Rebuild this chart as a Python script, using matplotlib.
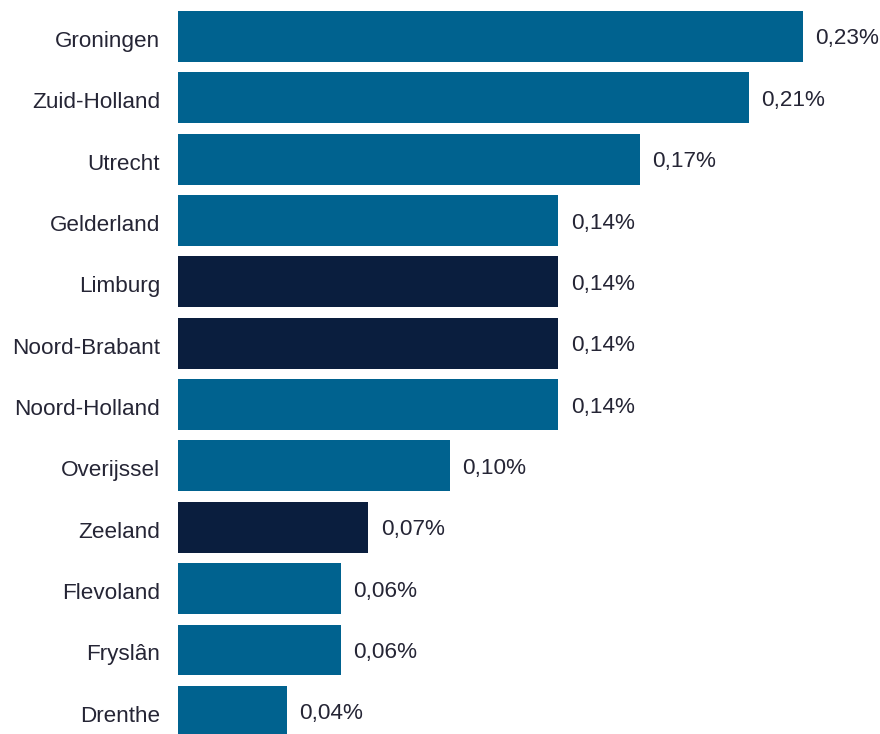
import matplotlib.pyplot as plt

provinces = ["Groningen", "Zuid-Holland", "Utrecht", "Gelderland", "Limburg",
             "Noord-Brabant", "Noord-Holland", "Overijssel", "Zeeland",
             "Flevoland", "Fryslân", "Drenthe"]
values = [0.23, 0.21, 0.17, 0.14, 0.14, 0.14, 0.14, 0.10, 0.07, 0.06, 0.06, 0.04]
highlight = ["Limburg", "Noord-Brabant", "Zeeland"]

BLUE = "#00628f"
NAVY = "#0a1e3e"
TEXT = "#252535"

plt.rcParams['font.family'] = ['Liberation Sans', 'DejaVu Sans']

fig = plt.figure(figsize=(8.8, 7.34), dpi=100)
ax = fig.add_axes([178 / 880, 0, 1 - 178 / 880, 1])

colors = [NAVY if p in highlight else BLUE for p in provinces]
y = list(range(len(provinces)))
ax.barh(y, values, height=0.83, color=colors)

for yi, v in zip(y, values):
    ax.text(v + 0.0046, yi + 0.04, f"{v:.2f}%".replace(".", ","), va="center",
            ha="left", fontsize=16.2, color=TEXT)

ax.set_yticks([yi + 0.04 for yi in y])
ax.set_yticklabels(provinces, fontsize=16.2, color=TEXT)
ax.tick_params(axis="y", length=0, pad=13)
ax.set_xticks([])
ax.set_xlim(0, 702 / 2717)
ax.set_ylim((734 - 36.5) / 61.35, -36.5 / 61.35)
for s in ax.spines.values():
    s.set_visible(False)

fig.savefig("out.png", dpi=100)
